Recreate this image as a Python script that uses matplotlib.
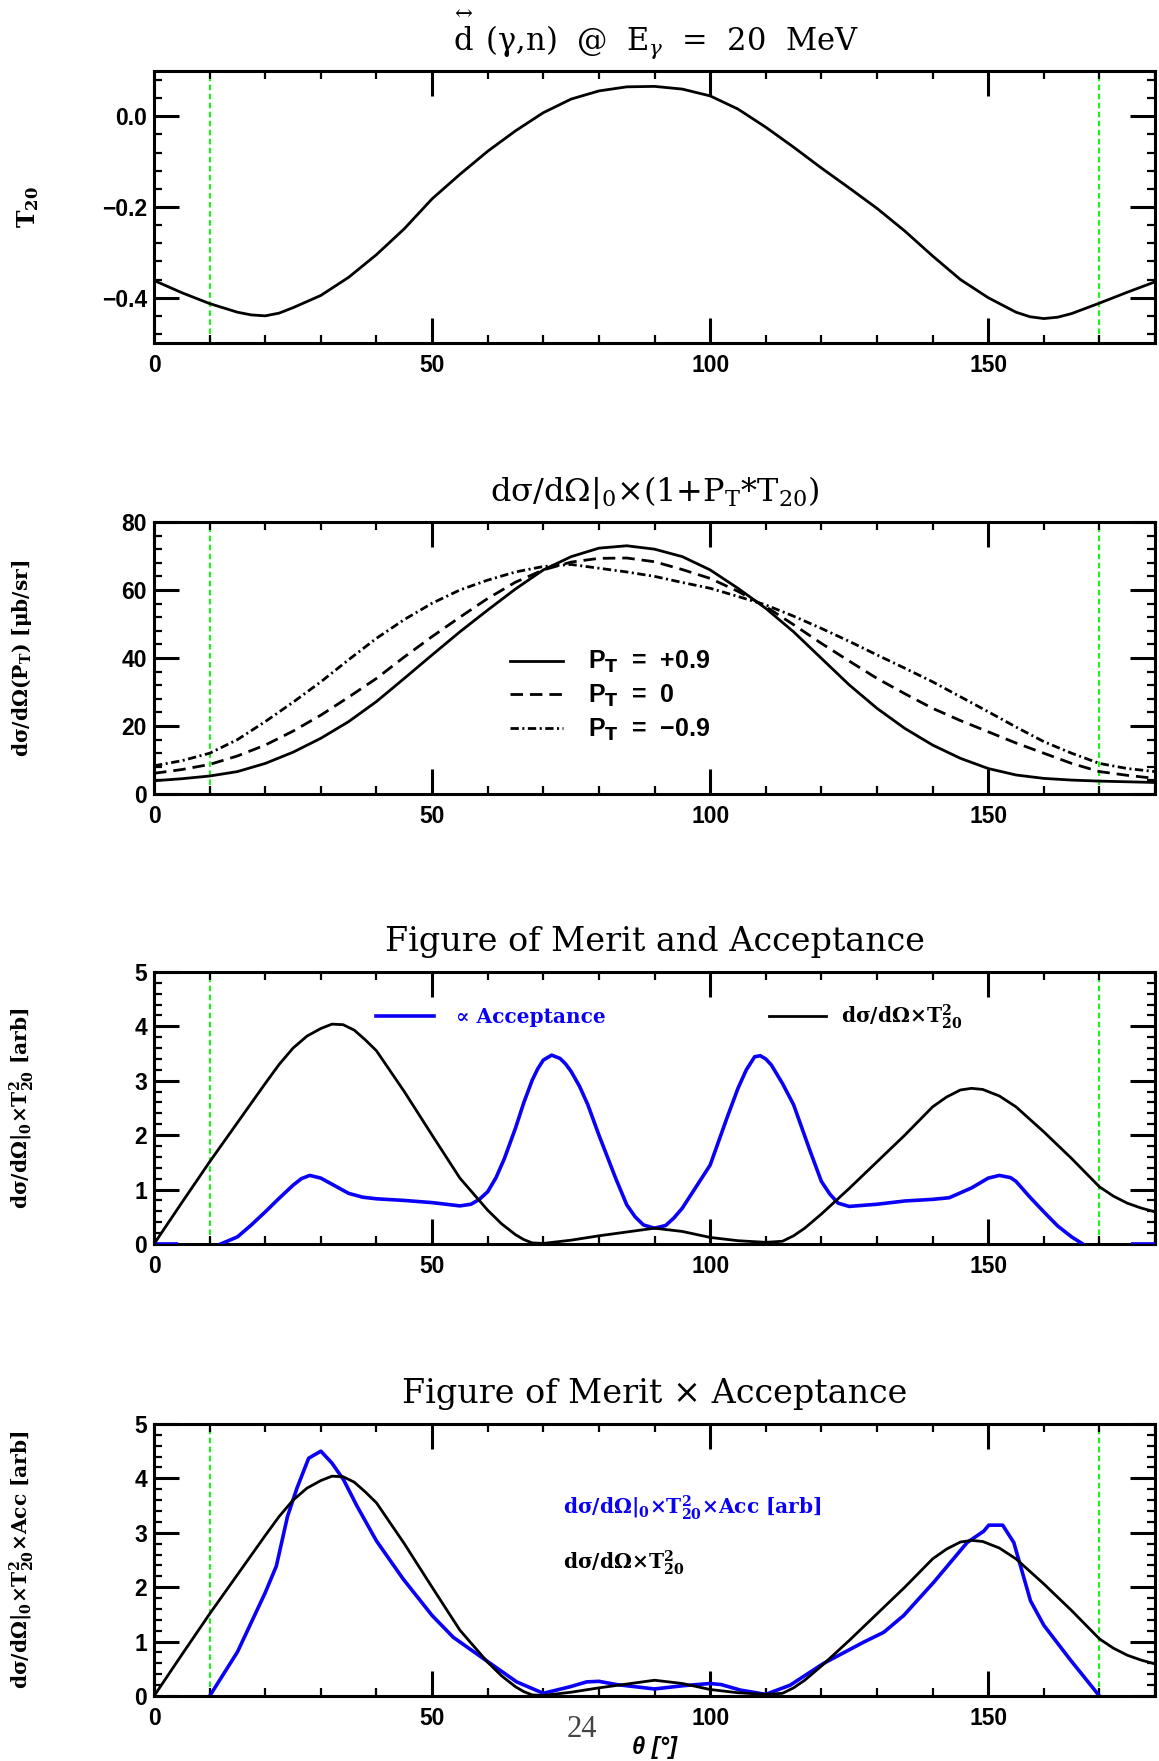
import matplotlib
matplotlib.use('Agg')
import matplotlib.pyplot as plt
from matplotlib.ticker import MultipleLocator, FuncFormatter

plt.rcParams['lines.scale_dashes'] = False

# ---- data ----
theta = [0, 5, 10, 15, 17.5, 20, 22.5, 25, 30, 35, 40, 45, 50, 55, 60, 65, 70, 75, 80, 85, 90,
         95, 100, 105, 110, 115, 120, 125, 130, 135, 140, 145, 150, 155, 157.5, 160, 162.5, 165,
         170, 175, 180]
t20 = [-0.362, -0.389, -0.413, -0.432, -0.438, -0.440, -0.434, -0.422, -0.395, -0.355, -0.305,
       -0.248, -0.182, -0.128, -0.077, -0.032, 0.008, 0.038, 0.056, 0.065, 0.066,
       0.060, 0.045, 0.016, -0.024, -0.068, -0.114, -0.158, -0.203, -0.253, -0.308, -0.360,
       -0.400, -0.432, -0.442, -0.446, -0.443, -0.435, -0.412, -0.388, -0.365]

xs_theta = [0, 5, 10, 15, 20, 25, 30, 35, 40, 45, 50, 55, 60, 65, 70, 75, 80, 85, 90,
            95, 100, 105, 110, 115, 120, 125, 130, 135, 140, 145, 150, 155, 160, 165, 170, 175, 180]
xs_plus = [3.9, 4.5, 5.3, 6.6, 9.0, 12.3, 16.4, 21.3, 27.2, 34.0, 40.9, 47.7, 54.1, 60.3, 65.9,
           69.8, 72.3, 73.0, 72.0, 69.8, 65.9, 60.5, 54.6, 47.7, 39.9, 32.1, 25.2, 19.3, 14.4,
           10.5, 7.5, 5.6, 4.6, 4.1, 3.8, 3.6, 3.4]
xs_zero = [6.1, 7.2, 8.7, 11.2, 14.4, 18.5, 23.2, 28.5, 34.0, 40.3, 46.3, 52.0, 57.5, 62.3, 65.9,
           68.2, 69.3, 69.4, 68.3, 66.0, 63.4, 59.6, 55.1, 49.8, 44.3, 39.1, 34.0, 29.5, 25.2,
           21.6, 18.3, 15.0, 12.0, 9.0, 6.6, 5.5, 4.6]
xs_minus = [8.3, 9.8, 12.0, 16.0, 21.3, 27.0, 33.0, 39.5, 45.8, 51.3, 56.1, 60.0, 62.9, 65.3, 66.9,
            67.5, 66.4, 65.3, 64.0, 62.2, 60.5, 58.1, 55.6, 52.3, 48.7, 44.9, 40.9, 37.0, 33.0,
            28.6, 24.2, 19.7, 15.4, 12.0, 9.0, 7.5, 6.6]
pt_labels = ['P$_\\mathbf{T}$  =  +0.9', 'P$_\\mathbf{T}$  =  0', 'P$_\\mathbf{T}$  =  \u22120.9']

fom_theta = [0, 5, 10, 15, 20, 22.5, 25, 27.5, 30, 32, 34, 36, 38, 40, 45, 50, 55, 60, 62.5, 65,
             66.5, 68, 70, 75, 80, 85, 90, 95, 100, 105, 110, 113, 115, 117, 120, 125, 130, 135,
             140, 142.5, 145, 147, 149, 152, 155, 160, 165, 170, 172.5, 175, 177.5, 180]
fom = [0.0, 0.76, 1.51, 2.23, 2.95, 3.30, 3.60, 3.82, 3.96, 4.04, 4.03, 3.93, 3.75, 3.55, 2.80,
       2.00, 1.21, 0.62, 0.37, 0.17, 0.08, 0.02, 0.01, 0.07, 0.15, 0.22, 0.29, 0.23, 0.12, 0.06,
       0.03, 0.05, 0.15, 0.29, 0.55, 1.02, 1.51, 2.00, 2.52, 2.70, 2.83, 2.86, 2.84, 2.72, 2.52,
       2.06, 1.57, 1.05, 0.88, 0.75, 0.66, 0.59]

# acceptance is only visible on the frame from 0-4 and 176-180 (gap = nan)
nan = float('nan')
acc_theta = [0, 4, 8, 12, 15, 17.5, 20, 22.5, 25, 26.5, 28, 30, 32.5, 35, 37.5, 40, 45, 50, 55,
             57, 58.5, 60, 61.5, 63, 65, 66.5, 68, 69, 70, 71.5, 73, 74, 75, 76.5, 78, 80, 83, 85,
             86.5, 88, 90, 92, 93.5, 95, 100, 103, 105, 106.5, 108, 109, 110, 111, 113, 115, 118,
             120, 121.5, 123, 125, 130, 135, 140, 143, 147, 150, 152, 154, 155, 157.5, 160, 162.5,
             165, 167, 172, 176, 180]
acc = [0, 0, nan, 0, 0.13, 0.35, 0.59, 0.84, 1.08, 1.20, 1.26, 1.21, 1.07, 0.93, 0.86, 0.83, 0.80,
       0.76, 0.70, 0.73, 0.82, 0.96, 1.22, 1.57, 2.13, 2.60, 3.01, 3.22, 3.38, 3.47, 3.41, 3.31,
       3.17, 2.90, 2.56, 2.00, 1.21, 0.72, 0.50, 0.35, 0.29, 0.34, 0.48, 0.66, 1.45, 2.31, 2.86,
       3.20, 3.44, 3.46, 3.40, 3.29, 2.95, 2.56, 1.70, 1.15, 0.92, 0.75, 0.69, 0.73, 0.79, 0.82,
       0.85, 1.03, 1.21, 1.26, 1.22, 1.15, 0.86, 0.59, 0.33, 0.13, 0, nan, 0, 0]

fxa_theta = [10, 15, 20, 22, 24, 25.7, 27.8, 30, 32, 34.1, 36.5, 40, 44.8, 50, 53.8, 59.2, 65.2,
             70, 74.8, 77.8, 80, 83.2, 90, 95.2, 100, 102, 105.4, 110, 114.4, 120.4, 127.6,
             131.2, 134.8, 140.2, 146.2, 149.2, 150.1, 152.6, 154.6, 157.6, 160, 164.8, 170]
fxa = [0, 0.81, 1.90, 2.39, 3.30, 3.82, 4.37, 4.50, 4.28, 3.97, 3.49, 2.85, 2.15, 1.48, 1.08,
       0.69, 0.26, 0.05, 0.17, 0.26, 0.27, 0.21, 0.13, 0.19, 0.23, 0.21, 0.11, 0.03, 0.20, 0.60,
       0.99, 1.17, 1.48, 2.09, 2.82, 3.03, 3.14, 3.14, 2.82, 1.75, 1.30, 0.66, 0]

cuts = [10, 170]

# ---- styles ----
TICKFONT = dict(family='Liberation Sans', weight='bold', size=16.5)
TITLEFONT = dict(family='DejaVu Serif', math_fontfamily='dejavuserif')
LABELFONT = dict(family='DejaVu Serif', weight='bold', size=14.5, math_fontfamily='dejavuserif')
BLUE = '#0a00f5'
GREEN = '#22ee22'

fig = plt.figure(figsize=(11.59, 17.61), dpi=100)
left, width, height = 0.1329, 0.8637, 0.1545
bottoms = [0.8052, 0.5491, 0.2936, 0.0369]
axes = [fig.add_axes([left, b, width, height]) for b in bottoms]


def style(ax, ymaj, ymin, ylim, fmt):
    ax.set_xlim(0, 180)
    ax.set_ylim(*ylim)
    ax.xaxis.set_major_locator(MultipleLocator(50))
    ax.xaxis.set_minor_locator(MultipleLocator(10))
    ax.yaxis.set_major_locator(MultipleLocator(ymaj))
    ax.yaxis.set_minor_locator(MultipleLocator(ymin))
    ax.yaxis.set_major_formatter(FuncFormatter(lambda v, p: (fmt % v).replace('-', '\u2212')))
    ax.tick_params(which='both', direction='in', top=True, right=True)
    ax.tick_params(which='major', length=18, width=2.2)
    ax.tick_params(which='minor', length=6, width=1.6)
    ax.tick_params(axis='x', pad=8)
    ax.tick_params(axis='y', pad=5)
    for lab in ax.get_xticklabels() + ax.get_yticklabels():
        lab.set(**TICKFONT)
    for sp in ax.spines.values():
        sp.set_linewidth(2.2)
    for c in cuts:
        ax.axvline(c, color=GREEN, lw=1.6, dashes=(4, 2.5), zorder=1)


# panel 1: T20
ax = axes[0]
ax.plot(theta, t20, color='k', lw=2.0)
style(ax, 0.2, 0.04, (-0.5, 0.1), '%.1f')
ax.set_title('$\\overset{\\leftrightarrow}{\\mathrm{d}}$ (\u03b3,n)  @  E$_\\gamma$  =  20  MeV',
             pad=15, size=22, **TITLEFONT)
ax.set_ylabel('T$_\\mathbf{20}$', ha='center', va='center',
              **dict(LABELFONT, size=17))
ax.yaxis.set_label_coords(-0.126, 0.5)

# panel 2: cross sections for three polarisations
ax = axes[1]
l1, = ax.plot(xs_theta, xs_plus, color='k', lw=2.0)
l2, = ax.plot(xs_theta, xs_zero, color='k', lw=2.0, dashes=(9, 5))
l3, = ax.plot(xs_theta, xs_minus, color='k', lw=2.0, dashes=(6, 2.5, 1.5, 2.5))
style(ax, 20, 4, (0, 80), '%d')
ax.set_title('d\u03c3/d\u03a9|$_0$\u00d7(1+P$_\\mathrm{T}$*T$_{20}$)', pad=15, size=23,
             **TITLEFONT)
ax.set_ylabel('d\u03c3/d\u03a9(P$_\\mathbf{T}$) [\u03bcb/sr]', ha='center', va='center',
              **LABELFONT)
ax.yaxis.set_label_coords(-0.132, 0.5)
leg = ax.legend([l1, l2, l3], pt_labels, loc='upper left', bbox_to_anchor=(0.356, 0.532),
                frameon=False, borderpad=0, borderaxespad=0, handlelength=2.1,
                handletextpad=1.0, labelspacing=0.3,
                prop=dict(family='Liberation Sans', weight='bold', size=18,
                          math_fontfamily='dejavusans'))

# panel 3: figure of merit and acceptance
ax = axes[2]
la, = ax.plot(acc_theta, acc, color=BLUE, lw=2.6, zorder=3)
lf, = ax.plot(fom_theta, fom, color='k', lw=2.0, zorder=3.1)
style(ax, 1, 0.2, (0, 5), '%d')
ax.set_title('Figure of Merit and Acceptance', pad=15, size=24, **TITLEFONT)
ax.set_ylabel('d\u03c3/d\u03a9|$_\\mathbf{0}$\u00d7T$^\\mathbf{2}_\\mathbf{20}$ [arb]',
              ha='center', va='center', **LABELFONT)
ax.yaxis.set_label_coords(-0.132, 0.5)
leg = ax.legend([la, lf], [' \u221d Acceptance', 'd\u03c3/d\u03a9\u00d7T$^\\mathbf{2}_\\mathbf{20}$'],
                ncol=2, loc='center left', bbox_to_anchor=(0.222, 0.835), frameon=False,
                borderpad=0, borderaxespad=0, handlelength=2.85, handletextpad=0.75,
                columnspacing=8.1,
                prop=dict(family='DejaVu Serif', weight='bold', size=14.5,
                          math_fontfamily='dejavuserif'))
for txt, col in zip(leg.get_texts(), [BLUE, 'k']):
    txt.set_color(col)

# panel 4: figure of merit x acceptance
ax = axes[3]
ax.plot(fxa_theta, fxa, color=BLUE, lw=2.6)
ax.plot(fom_theta, fom, color='k', lw=2.0)
style(ax, 1, 0.2, (0, 5), '%d')
ax.set_title('Figure of Merit \u00d7 Acceptance', pad=15, size=24, **TITLEFONT)
ax.set_ylabel('d\u03c3/d\u03a9|$_\\mathbf{0}$\u00d7T$^\\mathbf{2}_\\mathbf{20}$\u00d7Acc [arb]',
              ha='center', va='center', **LABELFONT)
ax.yaxis.set_label_coords(-0.132, 0.5)
ax.text(73.5, 3.34, 'd\u03c3/d\u03a9|$_\\mathbf{0}$\u00d7T$^\\mathbf{2}_\\mathbf{20}$\u00d7Acc [arb]',
        color=BLUE, va='baseline', family='DejaVu Serif', weight='bold', size=14.5,
        math_fontfamily='dejavuserif')
ax.text(73.5, 2.34, 'd\u03c3/d\u03a9\u00d7T$^\\mathbf{2}_\\mathbf{20}$',
        color='k', va='baseline', family='DejaVu Serif', weight='bold', size=14.5,
        math_fontfamily='dejavuserif')
ax.set_xlabel('\u03b8 [\u00b0]', family='Liberation Sans', weight='bold', style='italic',
              size=17, labelpad=4)

fig.text(0.502, 0.0136, '24', family='Liberation Serif', size=22, color='#444444', ha='center',
         va='baseline')

fig.savefig('out.png', dpi=100)
